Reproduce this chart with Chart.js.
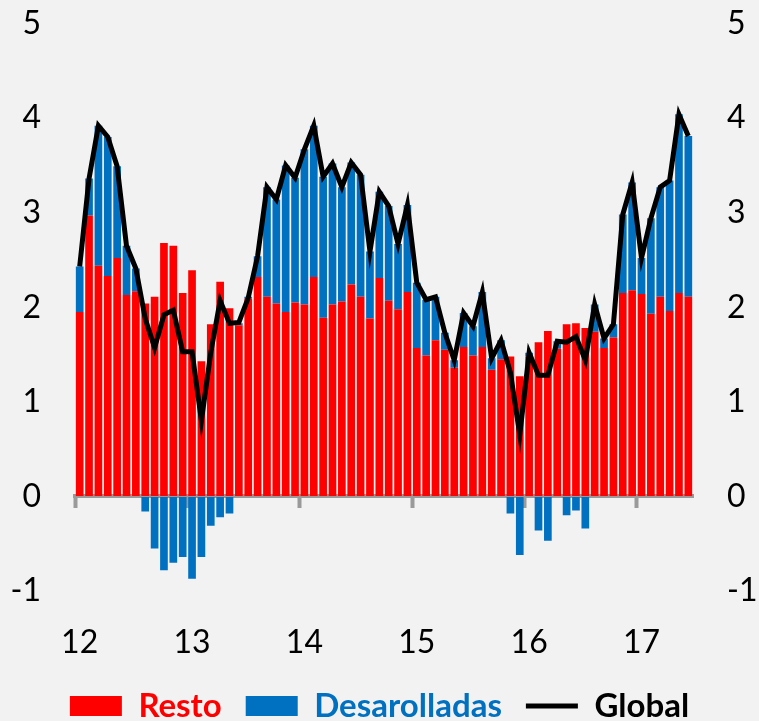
<!DOCTYPE html>
<html>
<head>
<meta charset="utf-8">
<script src="https://cdn.jsdelivr.net/npm/chart.js@4/dist/chart.umd.min.js"></script>
<style>
    html, body { margin: 0; padding: 0; background: #f2f2f2; }
    #chart { display: block; }
</style>
</head>
<body>
<canvas id="chart" width="759" height="721"></canvas>
<script>
// Meses ene-2012 .. jun-2017
const months = [
    '2012-01','2012-02','2012-03','2012-04','2012-05','2012-06','2012-07','2012-08','2012-09','2012-10','2012-11','2012-12',
    '2013-01','2013-02','2013-03','2013-04','2013-05','2013-06','2013-07','2013-08','2013-09','2013-10','2013-11','2013-12',
    '2014-01','2014-02','2014-03','2014-04','2014-05','2014-06','2014-07','2014-08','2014-09','2014-10','2014-11','2014-12',
    '2015-01','2015-02','2015-03','2015-04','2015-05','2015-06','2015-07','2015-08','2015-09','2015-10','2015-11','2015-12',
    '2016-01','2016-02','2016-03','2016-04','2016-05','2016-06','2016-07','2016-08','2016-09','2016-10','2016-11','2016-12',
    '2017-01','2017-02','2017-03','2017-04','2017-05','2017-06'
];

const yearLabels = ['12', '13', '14', '15', '16', '17'];

const resto = [
    1.95, 2.97, 2.44, 2.33, 2.52, 2.13, 2.17, 2.04, 2.11, 2.68, 2.65, 2.15,
    2.39, 1.43, 1.82, 2.27, 1.99, 1.81, 2.09, 2.32, 2.11, 2.04, 1.95, 2.05,
    2.03, 2.32, 1.89, 2.03, 2.06, 2.24, 2.11, 1.88, 2.31, 2.07, 1.98, 2.16,
    1.57, 1.49, 1.65, 1.55, 1.36, 1.58, 1.49, 1.58, 1.34, 1.45, 1.48, 1.27,
    1.48, 1.63, 1.75, 1.56, 1.82, 1.83, 1.78, 1.74, 1.57, 1.68, 2.15, 2.18,
    2.14, 1.93, 2.11, 1.96, 2.15, 2.11
];

const desarolladas = [
    0.48, 0.39, 1.48, 1.47, 0.97, 0.52, 0.24, -0.16, -0.55, -0.78, -0.70, -0.64,
    -0.87, -0.64, -0.31, -0.22, -0.18, 0.02, 0.02, 0.22, 1.16, 1.10, 1.55, 1.32,
    1.64, 1.60, 1.49, 1.49, 1.21, 1.29, 1.29, 0.71, 0.91, 1.00, 0.69, 0.92,
    0.69, 0.59, 0.46, 0.18, 0.08, 0.36, 0.31, 0.58, 0.12, 0.20, -0.18, -0.62,
    0.04, -0.36, -0.47, 0.08, -0.20, -0.15, -0.34, 0.29, 0.10, 0.14, 0.83, 1.14,
    0.38, 1.01, 1.16, 1.38, 1.89, 1.70
];

const global = [
    2.43, 3.36, 3.92, 3.80, 3.49, 2.65, 2.41, 1.88, 1.57, 1.92, 1.97, 1.53,
    1.53, 0.80, 1.52, 2.07, 1.83, 1.84, 2.10, 2.54, 3.27, 3.14, 3.50, 3.37,
    3.67, 3.92, 3.38, 3.52, 3.27, 3.53, 3.40, 2.59, 3.22, 3.07, 2.67, 3.08,
    2.26, 2.08, 2.11, 1.73, 1.44, 1.94, 1.80, 2.16, 1.46, 1.65, 1.31, 0.65,
    1.52, 1.28, 1.28, 1.64, 1.63, 1.69, 1.44, 2.03, 1.67, 1.82, 2.98, 3.32,
    2.52, 2.94, 3.27, 3.34, 4.04, 3.81
];

const yMin = -1;
const yMax = 5;

const RED = '#ff0000';
const BLUE = '#0070c0';
const AXIS_GRAY = '#9a9a9a';
const CLEAR = 'rgba(0,0,0,0)';
const FONT = 'Lato, "Open Sans", sans-serif';

const tickFont = { family: FONT, size: 32 };

// eje vertical: la separacion de las etiquetas va en tickLength (transparente)
// para que no empuje el area del grafico hacia abajo
function yAxis(position, gap, width) {
    return {
        position: position,
        min: yMin,
        max: yMax,
        grid: {
            display: true,
            drawOnChartArea: false,
            drawTicks: true,
            tickLength: gap,
            color: CLEAR,
            tickColor: CLEAR
        },
        border: { display: false },
        ticks: { stepSize: 1, padding: 1, color: '#000', font: tickFont },
        afterFit: (scale) => { scale.width = width; }
    };
}

const yLeft = yAxis('left', 33, 75);
yLeft.stacked = true;
const yRight = yAxis('right', 33, 66);

new Chart(document.getElementById('chart'), {
    type: 'bar',
    data: {
        labels: months,
        datasets: [
            {
                label: 'Resto',
                data: resto,
                backgroundColor: RED,
                borderWidth: 0,
                barPercentage: 0.82,
                categoryPercentage: 1,
                order: 1
            },
            {
                label: 'Desarolladas',
                data: desarolladas,
                backgroundColor: BLUE,
                borderWidth: 0,
                barPercentage: 0.82,
                categoryPercentage: 1,
                order: 1
            },
            {
                type: 'line',
                label: 'Global',
                data: global,
                borderColor: '#000',
                backgroundColor: '#000',
                borderWidth: 5,
                pointRadius: 0,
                tension: 0,
                stack: 'global',
                order: 0
            }
        ]
    },
    options: {
        responsive: false,
        animation: false,
        layout: {
            padding: { top: 23.5, left: 0, right: 0, bottom: -11.5 }
        },
        plugins: {
            tooltip: { enabled: false },
            legend: {
                position: 'bottom',
                labels: {
                    usePointStyle: true,
                    pointStyleWidth: 52,
                    boxHeight: 20,
                    padding: 24,
                    font: { family: FONT, size: 33, weight: 'bold' },
                    sort: (a, b) => a.datasetIndex - b.datasetIndex,
                    generateLabels: (chart) => {
                        const items = Chart.defaults.plugins.legend.labels.generateLabels(chart);
                        items.forEach((item) => {
                            const ds = chart.data.datasets[item.datasetIndex];
                            if (ds.type === 'line') {
                                item.pointStyle = 'line';
                                item.fontColor = '#000';
                            } else {
                                item.pointStyle = 'rect';
                                item.lineWidth = 0;
                                item.fontColor = ds.backgroundColor;
                            }
                        });
                        return items;
                    }
                }
            }
        },
        scales: {
            x: {
                stacked: true,
                grid: { display: false, drawTicks: false },
                border: { display: false },
                ticks: {
                    autoSkip: false,
                    maxRotation: 0,
                    padding: 32,
                    color: '#000',
                    font: tickFont,
                    callback: (val, i) => (i % 12 === 0 ? yearLabels[i / 12] : '')
                },
                afterFit: (scale) => { scale.height = 74.5; }
            },
            // linea del cero con marcas de cada año
            x2: {
                type: 'category',
                position: { y: 0 },
                offset: true,
                grid: {
                    offset: true,
                    drawOnChartArea: false,
                    drawTicks: true,
                    tickLength: 10,
                    tickWidth: 4,
                    tickColor: (ctx) => (ctx.index !== undefined && ctx.index % 12 === 0 ? AXIS_GRAY : CLEAR)
                },
                border: { display: true, color: AXIS_GRAY, width: 4 },
                ticks: { display: false }
            },
            y: yLeft,
            y2: yRight
        }
    }
});
</script>
</body>
</html>
